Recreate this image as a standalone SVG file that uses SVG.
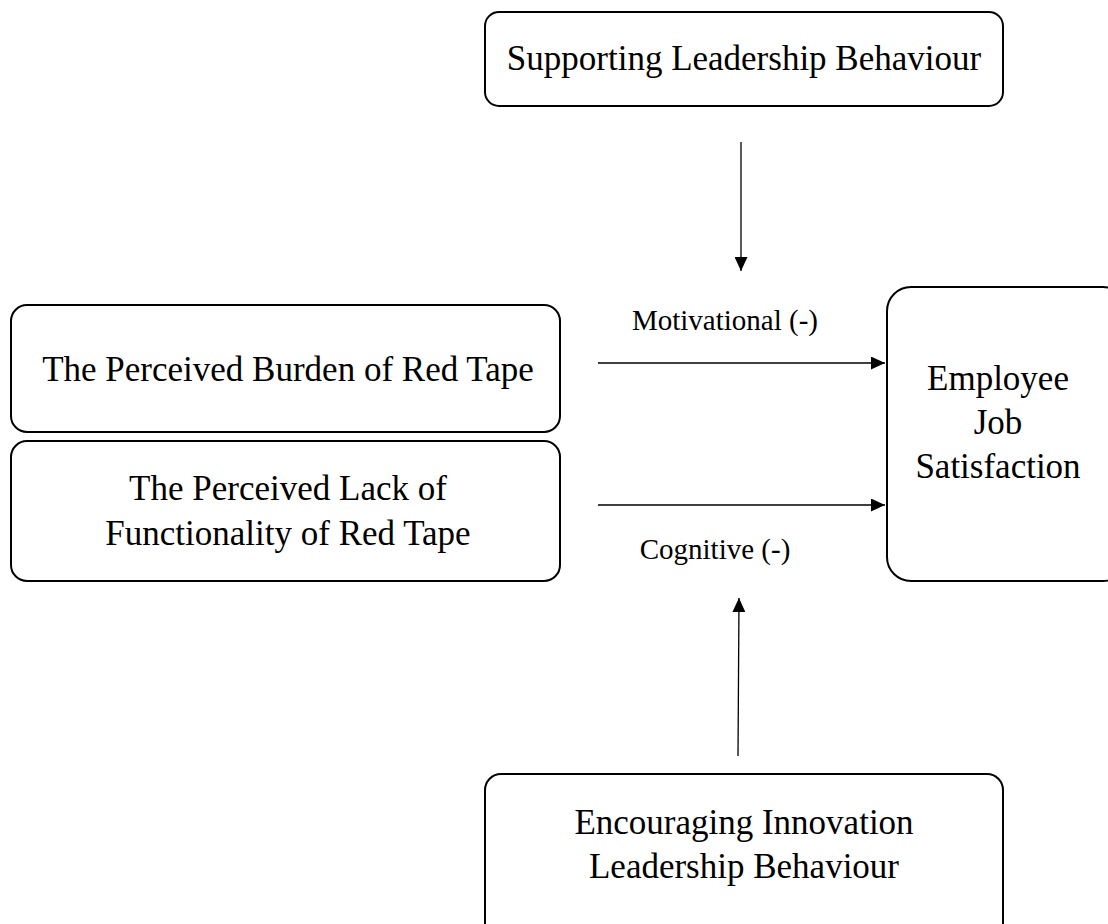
<svg xmlns="http://www.w3.org/2000/svg" width="1108" height="924" viewBox="0 0 1108 924">
  <style>
    .box { fill: #ffffff; stroke: #000000; stroke-width: 2; }
    .lbl { font-family: "Liberation Serif", "Times New Roman", serif; font-size: 35px; fill: #000000; text-anchor: middle; }
    .edge-lbl { font-family: "Liberation Serif", "Times New Roman", serif; font-size: 29px; fill: #000000; text-anchor: middle; }
    .conn { stroke: #000000; stroke-width: 1.3; fill: none; marker-end: url(#arrow); }
  </style>
  <defs>
    <marker id="arrow" viewBox="0 0 10 10" refX="10" refY="5" markerWidth="14" markerHeight="13" markerUnits="userSpaceOnUse" orient="auto" preserveAspectRatio="none">
      <path d="M0,0 L10,5 L0,10 Z" fill="#000000"/>
    </marker>
  </defs>
  <rect width="1108" height="924" fill="#ffffff"/>

  <g id="supporting">
    <rect class="box" x="485" y="12" width="518" height="94" rx="14"/>
    <text class="lbl" x="744" y="70">Supporting Leadership Behaviour</text>
  </g>

  <g id="burden">
    <rect class="box" x="11" y="305" width="549" height="127" rx="16"/>
    <text class="lbl" x="288" y="381">The Perceived Burden of Red Tape</text>
  </g>

  <g id="functionality">
    <rect class="box" x="11" y="441" width="549" height="140" rx="16"/>
    <text class="lbl" x="288" y="500">The Perceived Lack of</text>
    <text class="lbl" x="288" y="545">Functionality of Red Tape</text>
  </g>

  <g id="satisfaction">
    <rect class="box" x="887" y="287" width="240" height="294" rx="24"/>
    <text class="lbl" x="998" y="390">Employee</text>
    <text class="lbl" x="998" y="434">Job</text>
    <text class="lbl" x="998" y="478">Satisfaction</text>
  </g>

  <g id="innovation">
    <rect class="box" x="485" y="774" width="518" height="170" rx="16"/>
    <text class="lbl" x="744" y="834">Encouraging Innovation</text>
    <text class="lbl" x="744" y="878">Leadership Behaviour</text>
  </g>

  <g id="connectors">
    <line class="conn" x1="741" y1="142" x2="741" y2="271"/>
    <line class="conn" x1="598" y1="363" x2="885" y2="363"/>
    <line class="conn" x1="598" y1="505" x2="885" y2="505"/>
    <line class="conn" x1="738" y1="756" x2="739" y2="598"/>
    <text class="edge-lbl" x="725" y="330">Motivational (-)</text>
    <text class="edge-lbl" x="715" y="559">Cognitive (-)</text>
  </g>
</svg>
